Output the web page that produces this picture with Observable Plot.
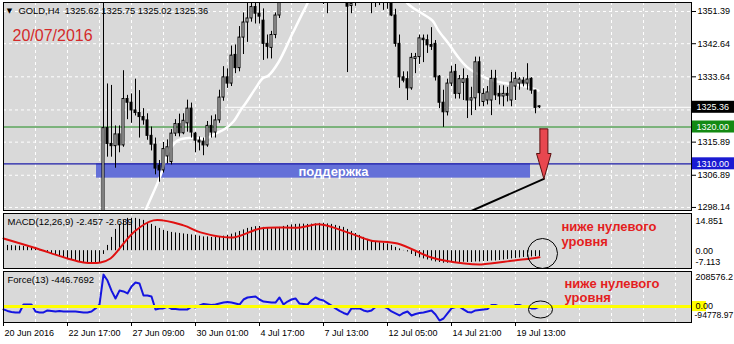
<!DOCTYPE html>
<html><head><meta charset="utf-8">
<script src="https://cdn.jsdelivr.net/npm/d3@7"></script>
<script src="https://cdn.jsdelivr.net/npm/@observablehq/plot@0.6"></script>
<style>
html,body{margin:0;padding:0;background:#fff;}
#chart{position:relative;width:734px;height:344px;overflow:hidden;background:#fff;}
#chart svg{position:absolute;left:0;}
</style></head><body><div id="chart"></div>
<script>
// ---------- data ----------
const titleText = "GOLD,H4  1325.62 1325.75 1325.02 1325.36";
const dateText = "20/07/2016";
const barStart = 25; // first visible H4 bar index (bars 0..24 lie below the chart)
const opens = [1265,1319.7,1315.4,1314.8,1318.0,1315.0,1327.6,1326.6,1324.5,1323.8,
 1322.7,1321.8,1317.6,1315.2,1309.5,1308.2,1312.0,1310.5,1318.2,1320.8,
 1318.3,1321.0,1325.0,1318.2,1316.3,1316.0,1315.0,1320.3,1318.5,1321.8,
 1328.0,1333.5,1331.8,1339.6,1336.0,1344.3,1348.4,1349.5,1352.6,1350.8,
 1348.9,1342.6,1341.5,1345.0,1350.3,1355.5,1359,1361,1359.5,1360.5,
 1364,1366,1365,1362,1360,1358,1356.5,1358,1364,1367,
 1366,1359,1352.9,1354,1357,1360,1358,1356,1357,1358,
 1359,1357,1356,1350.3,1342.6,1333.5,1333,1330.5,1338.5,1339,
 1344,1343.6,1342.3,1342.6,1333.7,1326.6,1324,1331.8,1335,1329,
 1332,1333,1327.2,1327.8,1337.6,1326.8,1327.2,1327.2,1333.1,1329,
 1328.3,1329,1327.2,1331,1331.8,1332.6,1331.8,1333.1,1329.9,1325.62];
const highs = [1362,1331.7,1331.3,1320.3,1320.3,1335.3,1328.6,1329.0,1333.0,1329.9,
 1325.0,1323.6,1320.0,1317.0,1310.9,1315.8,1316.5,1319.3,1322.0,1323.5,
 1323.6,1327.3,1326.5,1318.5,1317.3,1317.0,1321.5,1323.0,1323.3,1330.0,
 1336.4,1335.8,1342.0,1342.3,1347.3,1351.0,1353.8,1354.0,1354.0,1354.5,
 1352.1,1345.0,1346.0,1351.0,1357.0,1361,1363,1364,1362,1366,
 1368,1370,1368,1365,1363,1362,1360,1366,1370,1375,
 1368,1361,1357,1360,1362,1363,1361,1359,1360,1361,
 1362,1359,1358,1352,1345,1335,1335,1340,1340,1345,
 1345,1345,1347,1343.5,1334,1330,1333,1336.5,1337,1334,
 1335.8,1334,1330.8,1339,1339,1330.4,1331,1335.4,1335.4,1331.2,
 1331.2,1330.8,1334.8,1334.8,1333.4,1333.4,1337.2,1333.4,1330,1325.75];
const lows = [1255,1311.8,1311.8,1308.8,1313.0,1314.5,1322.0,1321.0,1323.0,1317.0,
 1320.5,1316.4,1313.5,1307.0,1305.0,1307.5,1310.0,1309.7,1317.4,1317.3,
 1317.9,1318.6,1317.0,1313.0,1313.5,1312.2,1314.5,1317.0,1317.0,1321.0,
 1327.0,1330.5,1331.0,1334.5,1335.0,1339.7,1343.0,1348.5,1348.0,1348.0,
 1338.1,1338.5,1338.5,1344.0,1349.5,1355,1357,1358,1357,1359,
 1362,1363,1360,1358,1356,1353.3,1350.8,1357,1362,1364,
 1358,1334.8,1350.8,1352.8,1355,1356,1355,1350.8,1352.5,1353,
 1351.7,1352,1350,1341.7,1330.5,1332,1327.2,1330,1334.5,1337,
 1337.5,1340,1340.8,1332.5,1325,1319.9,1323,1331,1327.6,1327.6,
 1327.2,1322.3,1323.1,1324.5,1325.5,1325.5,1326,1323.1,1327.2,1326,
 1325.5,1326.8,1325.5,1327.2,1330,1330.9,1330,1328.9,1323.6,1325.02];
const closes = [1319.7,1315.4,1314.8,1318.0,1315.0,1327.6,1326.6,1324.5,1323.8,1322.7,
 1321.8,1317.6,1315.2,1308.7,1308.2,1314.0,1314.5,1318.2,1320.8,1318.3,
 1321.7,1325.0,1318.5,1316.3,1315.8,1315.0,1320.3,1318.5,1321.8,1328.0,
 1333.5,1331.8,1339.4,1336.0,1344.3,1348.4,1349.5,1352.6,1350.8,1350.0,
 1342.6,1341.8,1345.0,1350.3,1354.5,1359,1361,1359.5,1360.5,1364,
 1366,1365,1362,1360,1358,1356.5,1358,1364,1367,1366,
 1359,1352.7,1353.5,1357,1360,1358,1356,1357,1358,1359,
 1357,1356,1350.3,1342.6,1333.5,1332.6,1330.5,1338.8,1339,1344.1,
 1343.6,1342.2,1341.8,1333.5,1326.6,1324,1331.8,1334.8,1329,1333,
 1333,1327.2,1327.8,1337.6,1329.2,1329.0,1329.4,1333.1,1328.6,1328.3,
 1329,1328.5,1332.1,1333.1,1332.9,1331.8,1332.9,1329.9,1325.2,1325.36];

// moving average (white): [bar, price]
const maPoints = [[34.25,1293.8],[35.5,1297.3],[39.25,1306.8],[41,1312.8],[43.5,1316.3],[47.25,1317.1],
 [50.5,1316.9],[53,1318.2],[55.5,1319.6],[57.5,1321.5],[59.25,1324.5],[60.5,1326.4],[63,1330.5],[64.75,1333.2],
 [66.25,1334.0],[68.75,1337.6],[72.25,1345.4],[75.5,1352.5],[77.25,1356.0],[84,1363],[92,1364],[98,1359.5],
 [101,1353.6],[104.75,1350.8],[107.25,1348.9],[108.75,1346.2],[111.25,1342.7],[113.75,1338.9],[116,1336.2],
 [119.25,1334.0],[122.5,1332.6],[126,1331.8],[129.25,1331.3],[131.75,1330.7],[133.75,1329.9]];
const trendPoints = [[115,1296.25],[135.1,1305.9]];
const priceTicks = [1351.39,1342.64,1333.64,1315.89,1306.89,1298.14];
const priceGrid = [1351.39,1342.64,1333.64,1324.64,1315.89,1306.89,1298.14];
const gridBars = [0,8,16,24,32,40,48,56,64,72,80,88,96,104,112,120,128,136,144,152,160,168];
const levelGreen = 1320.00, levelBlue = 1310.00, lastPrice = 1325.36;
const bidLine = {from: 55.5, to: 172, price: lastPrice};
const supportZone = {from: 23.25, to: 131.75, top: 1310.0, bottom: 1306.1, text: "поддержка", textBar: 73.75, textPrice: 1307.9};
const arrowPoly = [[134.1,1319.5],[136.1,1319.5],[136.1,1312.8],[136.9,1312.8],[135.1,1305.9],[133.25,1312.8],[134.1,1312.8],[134.1,1319.5]];
const priceBoxes = [
  {price: lastPrice, text: "1325.36", fill: "#000000"},
  {price: levelGreen, text: "1320.00", fill: "#138a13"},
  {price: levelBlue, text: "1310.00", fill: "#1a1ad2"}];

const macdTitle = "MACD(12,26,9) -2.457 -2.639";
const macdMin = -7.113, macdMax = 14.851;
const macdHist = [2.3,2.1,2.0,1.9,1.8,1.7,1.5,1.3,1.0,0.5,
 -0.1,-0.7,-1.3,-1.9,-2.5,-2.9,-3.4,-3.8,-4.1,-4.5,
 -4.7,-4.9,-4.9,-5.0,-5.1,-1.5,2.1,5.3,8.5,10.5,
 12.1,12.9,12.9,12.9,12.5,12.1,11.3,10.5,9.7,8.9,
 8.1,7.7,7.3,7.1,6.9,6.7,6.5,6.3,6.1,5.8,
 5.5,5.5,5.3,5.3,5.5,5.8,6.1,6.6,7.1,7.7,
 8.3,8.9,9.3,9.6,9.7,9.3,8.9,8.7,8.9,9.3,
 9.7,10.1,10.3,10.5,10.6,10.6,10.5,10.6,10.7,10.9,
 10.9,10.7,10.5,10.1,9.7,9.3,8.5,7.7,6.9,6.1,
 5.3,4.5,3.9,3.5,3.2,2.9,2.7,2.1,1.3,0.7,
 0.1,-0.5,-1.5,-2.3,-2.9,-3.3,-3.7,-4.1,-4.5,-4.7,
 -5.0,-5.0,-4.8,-4.8,-4.7,-4.6,-4.7,-4.7,-4.5,-4.5,
 -4.3,-4.3,-4.1,-4.1,-3.9,-3.7,-3.5,-3.3,-3.1,-2.9,
 -2.7,-2.6,-2.5,-2.4,-2.457];
const macdSignal = [[0,4.9],[7.5,1.3],[16,-3.1],[20,-4.7],[24.25,-4.7],[26.75,-3.1],[32.5,7.3],[37.5,12.1],
 [45,10.1],[49.25,7.3],[57.5,5.3],[64.25,8.9],[74.25,9.3],[79.25,10.5],[86.75,6.9],[91.75,4.1],[98.5,2.9],
 [107,-2.7],[115.25,-5.1],[119.5,-5.5],[127.75,-3.9],[132,-3.1],[134,-2.639]];
const macdLabels = ["14.851","0.00","-7.113"];
const noteText = "ниже нулевого\nуровня";
const macdNote = {bar: 139.5, value: 6.67};
const macdCircle = {bar: 134.75, value: -1.12};

const forceTitle = "Force(13) -446.7692";
const forceMin = -94778.97, forceMax = 208576.2;
const forceVals = [-17000,-26000,-32000,-35000,-35000,12000,12000,12000,-29000,-35000,
 -35000,-23000,-26000,-29000,-26000,-29000,-29000,-29000,-29000,-32000,
 -35000,-35000,-29000,-11000,12000,190000,155000,95000,48000,95000,
 90000,78000,119000,143000,137000,66000,66000,60000,-17000,-11000,
 -11000,0,-14000,-14000,-17000,-17000,-17000,0,-5000,6000,
 15000,12000,9000,12000,18000,24000,27000,24000,18000,12000,
 42000,54000,57000,60000,42000,30000,27000,24000,24000,54000,
 12000,30000,42000,48000,18000,15000,12000,36000,54000,42000,
 36000,21000,6000,-11000,-26000,-38000,-47000,-11000,-11000,-11000,
 -23000,-29000,-23000,-3000,0,0,-11000,-29000,-41000,-53000,
 -38000,-29000,-53000,-44000,-38000,-35000,-29000,-23000,-47000,-83000,
 -71000,-41000,-11000,-3000,0,-17000,-32000,-35000,-23000,-20000,
 -17000,-14000,9000,9000,0,-3000,0,-3000,9000,9000,
 0,0,-11000,-11000,-446.7692];
const forceLabels = ["208576.2","0.00","-94778.97"];
const forceNote = {bar: 140.25, value: 95600};
const forceCircle = {bar: 134.25, value: -17400};

const xTicks = [0,16,32,48,64,80,96,112,128];
const xTickLabels = ["20 Jun 2016","22 Jun 17:00","27 Jun 09:00","30 Jun 01:00","4 Jul 17:00","7 Jul 13:00","12 Jul 05:00","14 Jul 21:00","19 Jul 13:00"];

// ---------- tables ----------
const candles = opens.map((o, k) => ({i: barStart + k, open: o, high: highs[k], low: lows[k], close: closes[k]}));
const macdData = macdHist.map((v, i) => ({i, v}));
const forceData = forceVals.map((v, i) => ({i, v}));

// ---------- style ----------
const FONT = "'Liberation Sans', Arial, sans-serif";
const BG = "#d9d9d9";
const W = 734, ML = 3, MR = 43;
const xScale = {domain: [0, 172], axis: null};
const baseStyle = {fontFamily: FONT, fontSize: "9px", background: "transparent", overflow: "visible", color: "black"};
const grid = {stroke: "white", strokeDasharray: "3,3", strokeWidth: 1};

const pricePerPx = (1353.84 - 1297.31) / 208;
const boxHalf = 6 * pricePerPx;

const chart = document.getElementById("chart");
function place(svg, top) { svg.style.top = top + "px"; chart.appendChild(svg); return svg; }

// ---------- main price panel ----------
const main = Plot.plot({
  width: W, height: 212, marginLeft: ML, marginRight: MR, marginTop: 2, marginBottom: 2,
  style: baseStyle,
  x: xScale,
  y: {domain: [1297.31, 1353.84], axis: "right", ticks: priceTicks, tickFormat: d => d.toFixed(2), tickSize: 4, tickPadding: 2, label: null},
  marks: [
    Plot.frame({fill: BG}),
    Plot.ruleY(priceGrid, grid),
    Plot.ruleX(gridBars, grid),
    Plot.ruleY([bidLine], {x1: "from", x2: "to", y: "price", stroke: "white", strokeWidth: 1}),
    Plot.rect([supportZone], {x1: "from", x2: "to", y1: "bottom", y2: "top", fill: "#6470d8"}),
    Plot.ruleY([levelGreen], {stroke: "#1e8c1e", strokeWidth: 1}),
    Plot.ruleY([levelBlue], {stroke: "#1c1ca8", strokeWidth: 1.2}),
    Plot.line(maPoints, {x: d => d[0], y: d => d[1], stroke: "white", strokeWidth: 2.5, curve: "catmull-rom", clip: true}),
    Plot.line(trendPoints, {x: d => d[0], y: d => d[1], stroke: "black", strokeWidth: 2, clip: true}),
    Plot.ruleX(candles, {x: "i", y1: "low", y2: "high", stroke: "black", strokeWidth: 1, clip: true}),
    Plot.rect(candles, {x1: d => d.i - 0.25, x2: d => d.i + 0.25, y1: "open", y2: "close",
      fill: d => d.close >= d.open ? "white" : "black", stroke: "black", strokeWidth: 1, clip: true}),
    Plot.text([supportZone], {x: "textBar", y: "textPrice", text: "text", textAnchor: "start", fill: "white", fontWeight: "bold", fontSize: 13}),
    Plot.line(arrowPoly, {x: d => d[0], y: d => d[1], fill: "#e8474f", stroke: "#5a1010", strokeWidth: 1}),
    Plot.text(["▼"], {frameAnchor: "top-left", dx: 6, dy: 8, lineAnchor: "middle", textAnchor: "middle", fontSize: 7, fontFamily: "DejaVu Sans"}),
    Plot.text([titleText], {frameAnchor: "top-left", dx: 15, dy: 8, lineAnchor: "middle", textAnchor: "start", fontSize: 9.4, fill: "black"}),
    Plot.text([dateText], {frameAnchor: "top-left", dx: 9, dy: 33.5, lineAnchor: "middle", textAnchor: "start", fontSize: 16, fill: "#d42a2a"}),
    Plot.rect(priceBoxes, {x1: 172.25, x2: 182.75, y1: d => d.price - boxHalf, y2: d => d.price + boxHalf, fill: "fill"}),
    Plot.text(priceBoxes, {x: 172.25, y: "price", text: "text", dx: 4, textAnchor: "start", fill: "white"}),
    Plot.frame({stroke: "black"})
  ]
});
place(main, 0);

// ---------- MACD panel ----------
const macd = Plot.plot({
  width: W, height: 58, marginLeft: ML, marginRight: MR, marginTop: 1, marginBottom: 2,
  style: baseStyle,
  x: xScale,
  y: {domain: [macdMin, macdMax], axis: null},
  marks: [
    Plot.frame({fill: BG}),
    Plot.ruleX(gridBars, grid),
    Plot.ruleX(macdData, {x: "i", y1: 0, y2: "v", stroke: "black", strokeWidth: 1}),
    Plot.line(macdSignal, {x: d => d[0], y: d => d[1], stroke: "#e01010", strokeWidth: 2, curve: "catmull-rom"}),
    Plot.text([macdTitle], {frameAnchor: "top-left", dx: 4, dy: 8, lineAnchor: "middle", textAnchor: "start", fontSize: 9.5}),
    Plot.text([noteText], {x: macdNote.bar, y: macdNote.value, textAnchor: "start", fill: "#e41e1e", fontWeight: "bold", fontSize: 13, lineHeight: 1.12}),
    Plot.dot([macdCircle], {x: "bar", y: "value", r: 15, stroke: "black", strokeWidth: 1, fill: "none"}),
    Plot.text([macdMax], {y: d => d, frameAnchor: "right", dx: 4, dy: 8, textAnchor: "start", text: () => macdLabels[0]}),
    Plot.text([0], {y: d => d, frameAnchor: "right", dx: 4, textAnchor: "start", text: () => macdLabels[1]}),
    Plot.text([macdMin], {y: d => d, frameAnchor: "right", dx: 4, dy: -6, textAnchor: "start", text: () => macdLabels[2]}),
    Plot.frame({stroke: "black"})
  ]
});
place(macd, 212);

// ---------- Force panel ----------
const force = Plot.plot({
  width: W, height: 74, marginLeft: ML, marginRight: MR, marginTop: 1, marginBottom: 22,
  style: baseStyle,
  x: {domain: [0, 172], axis: "bottom", ticks: xTicks, tickFormat: () => "", tickSize: 4, label: null},
  y: {domain: [forceMin, forceMax], axis: null},
  marks: [
    Plot.frame({fill: BG}),
    Plot.ruleX(gridBars, grid),
    Plot.line(forceData, {x: "i", y: "v", stroke: "#1515e0", strokeWidth: 2}),
    Plot.ruleY([0], {stroke: "#ffff00", strokeWidth: 3}),
    Plot.text([forceTitle], {frameAnchor: "top-left", dx: 4, dy: 8, lineAnchor: "middle", textAnchor: "start", fontSize: 9.5}),
    Plot.text([noteText], {x: forceNote.bar, y: forceNote.value, textAnchor: "start", fill: "#e41e1e", fontWeight: "bold", fontSize: 13, lineHeight: 1.08}),
    Plot.dot([forceCircle], {x: "bar", y: "value", r: 12, stroke: "black", strokeWidth: 1, fill: "none"}),
    Plot.rect([0], {x1: 172.25, x2: 175.75, y1: d => d - 30000, y2: d => d + 30000, fill: "#ffff00"}),
    Plot.text([forceMax], {y: d => d, frameAnchor: "right", dx: 4, dy: 6, textAnchor: "start", text: () => forceLabels[0]}),
    Plot.text([0], {y: d => d, frameAnchor: "right", dx: 4, textAnchor: "start", text: () => forceLabels[1]}),
    Plot.text([forceMin], {y: d => d, frameAnchor: "right", dx: 3, dy: -7, textAnchor: "start", fontSize: 8.6, text: () => forceLabels[2]}),
    Plot.text(xTicks, {x: d => d, frameAnchor: "bottom", dy: 11, dx: 1, lineAnchor: "middle", textAnchor: "start", text: (d, k) => xTickLabels[k]}),
    Plot.frame({stroke: "black"})
  ]
});
place(force, 270);
// the force annotation ring is an ellipse in the reference
force.querySelectorAll("circle").forEach(c => {
  const cx = +c.getAttribute("cx"), cy = +c.getAttribute("cy");
  c.setAttribute("transform", `translate(${cx},${cy}) scale(1,0.71) translate(${-cx},${-cy})`);
  c.setAttribute("vector-effect", "non-scaling-stroke");
});
</script></body></html>
